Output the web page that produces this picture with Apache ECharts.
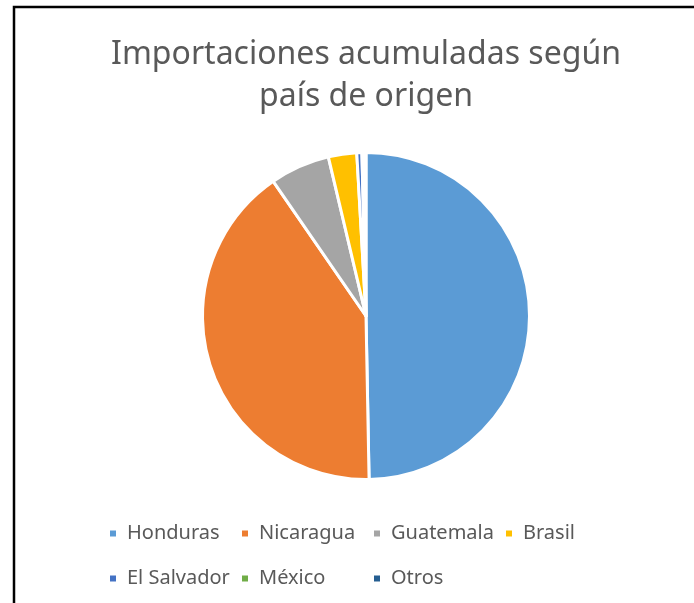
<!DOCTYPE html>
<html>
<head>
<meta charset="utf-8">
<script src="https://cdn.jsdelivr.net/npm/echarts@6/dist/echarts.min.js"></script>
<style>
  html, body { margin: 0; padding: 0; background: #fff; }
  #main { width: 694px; height: 603px; }
</style>
</head>
<body>
<div id="main"></div>
<script>
var paises = ['Honduras', 'Nicaragua', 'Guatemala', 'Brasil', 'El Salvador', 'México', 'Otros'];
var participacion = [49.7, 40.7, 5.9, 2.8, 0.5, 0.2, 0.2];
var colores = ['#5B9BD5', '#ED7D31', '#A5A5A5', '#FFC000', '#4472C4', '#70AD47', '#255E91'];

var myChart = echarts.init(document.getElementById('main'));

var option = {
    animation: false,
    color: colores,
    title: {
        text: 'Importaciones acumuladas según\npaís de origen',
        left: 366,
        top: 34,
        textAlign: 'center',
        padding: 0,
        textStyle: {
            fontFamily: 'Noto Sans',
            fontSize: 32,
            fontWeight: 'normal',
            lineHeight: 42,
            color: '#595959'
        }
    },
    legend: {
        left: 108,
        top: 511,
        width: 540,
        itemWidth: 8,
        itemHeight: 8,
        itemGap: 0,
        icon: 'rect',
        padding: 0,
        textStyle: {
            fontFamily: 'Noto Sans',
            fontSize: 20,
            color: '#595959',
            width: 113,
            lineHeight: 45,
            padding: [0, 0, 0, 5]
        },
        data: paises
    },
    graphic: [{
        type: 'rect',
        shape: { x: 14, y: 7, width: 720, height: 640 },
        style: { fill: null, stroke: '#000', lineWidth: 2.5 },
        silent: true
    }],
    series: [{
        name: 'Importaciones',
        type: 'pie',
        center: [366, 316],
        radius: 163.5,
        startAngle: 90,
        clockwise: true,
        avoidLabelOverlap: false,
        label: { show: false },
        labelLine: { show: false },
        itemStyle: {
            borderColor: '#fff',
            borderWidth: 3
        },
        emphasis: { disabled: true },
        data: paises.map(function (p, i) {
            return { name: p, value: participacion[i] };
        })
    }]
};

myChart.setOption(option);
</script>
</body>
</html>
